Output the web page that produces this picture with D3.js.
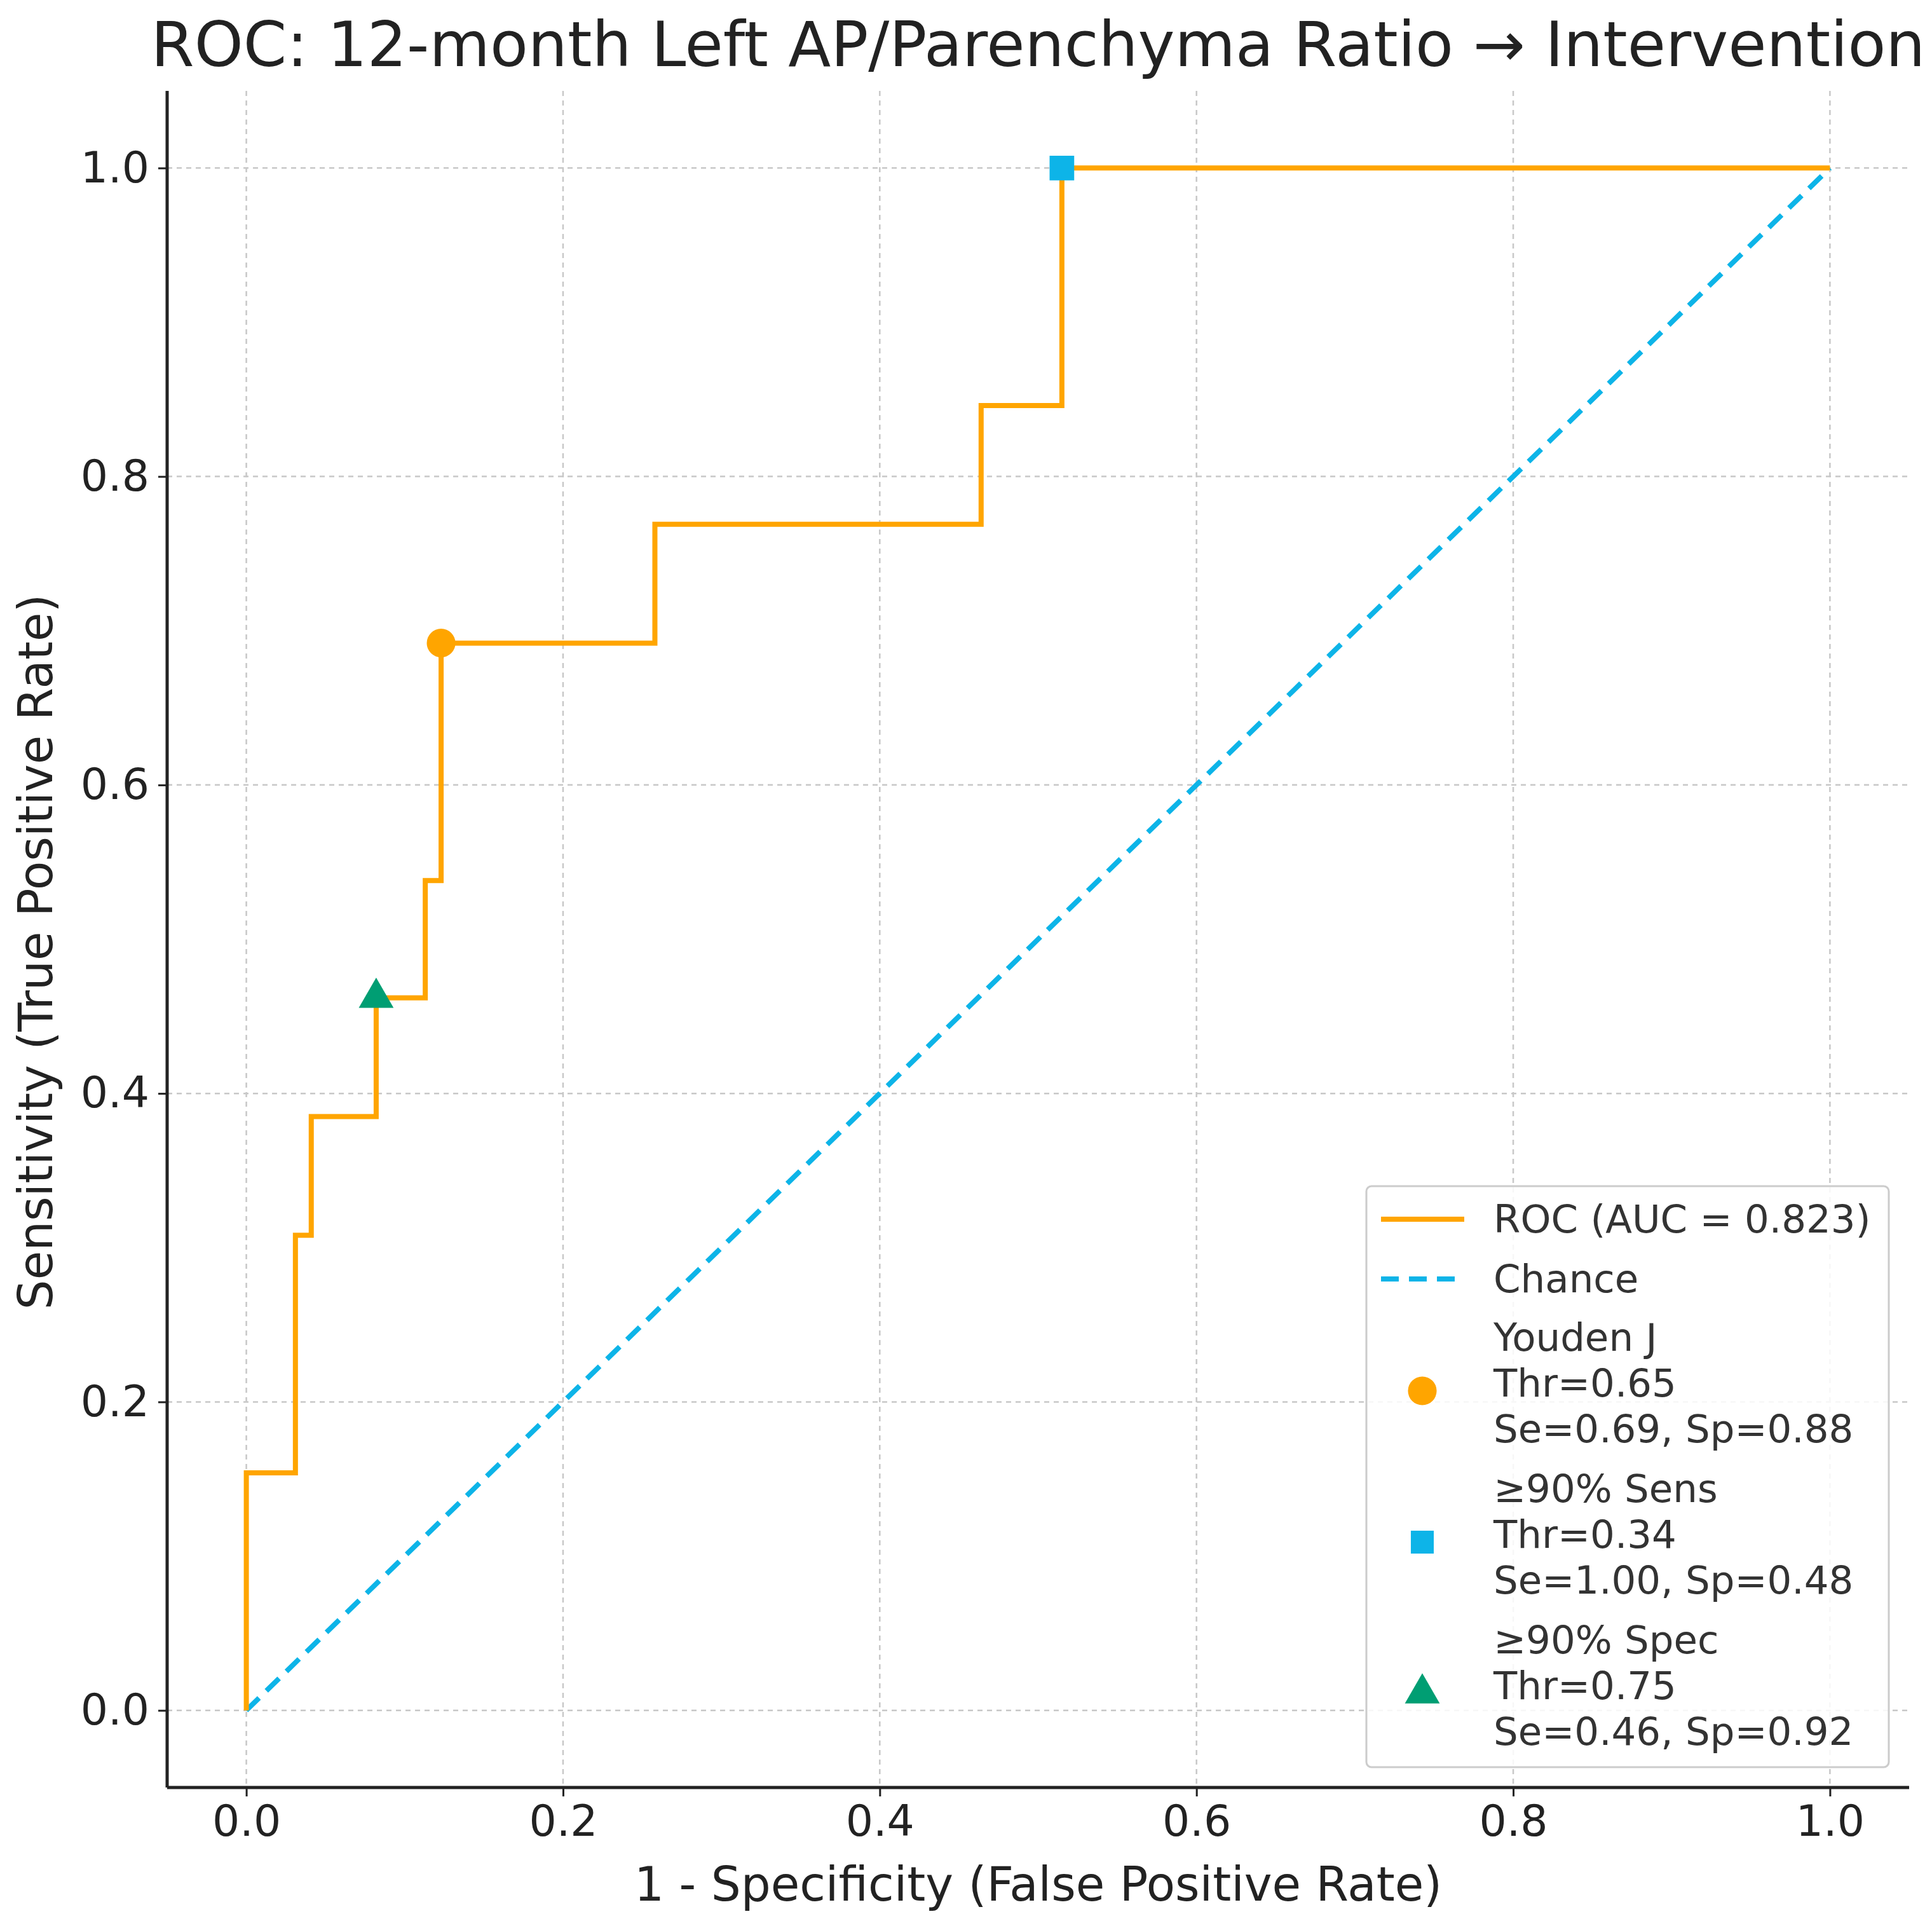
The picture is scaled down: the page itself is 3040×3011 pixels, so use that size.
<!DOCTYPE html>
<html><head><meta charset="utf-8">
<script src="https://cdn.jsdelivr.net/npm/d3@7"></script>
<style>body{margin:0;background:#fff}svg{display:block}</style>
</head><body>
<script>
const rocFPR = [0,0,0.031,0.031,0.041,0.041,0.082,0.082,0.113,0.113,0.123,0.123,0.258,0.258,0.464,0.464,0.515,0.515,1.0];
const rocTPR = [0,0.154,0.154,0.308,0.308,0.385,0.385,0.462,0.462,0.538,0.538,0.692,0.692,0.769,0.769,0.846,0.846,1.0,1.0];
const ticks = [0,0.2,0.4,0.6,0.8,1.0];
const youden = {fpr:0.123, tpr:0.692};
const sens90 = {fpr:0.515, tpr:1.0};
const spec90 = {fpr:0.082, tpr:0.462};
const legendLabels = [["ROC (AUC = 0.823)"],["Chance"],["Youden J","Thr=0.65","Se=0.69, Sp=0.88"],["≥90% Sens","Thr=0.34","Se=1.00, Sp=0.48"],["≥90% Spec","Thr=0.75","Se=0.46, Sp=0.92"]];

const W=3040,H=3011, L=263,R=3004,T=143,B=2812;
const orange="#FFA500", blue="#0DB4E8", green="#009E73";
const F="DejaVu Sans, sans-serif";
const svg=d3.select("body").append("svg").attr("width",W).attr("height",H);
const x=d3.scaleLinear().domain([-0.05,1.05]).range([L,R]);
const y=d3.scaleLinear().domain([-0.05,1.05]).range([B,T]);

const g=svg.append("g");
ticks.forEach(t=>{
  g.append("line").attr("x1",x(t)).attr("x2",x(t)).attr("y1",T).attr("y2",B).attr("stroke","#c8c8c8").attr("stroke-width",2.5).attr("stroke-dasharray","8,7");
  g.append("line").attr("y1",y(t)).attr("y2",y(t)).attr("x1",L).attr("x2",R).attr("stroke","#c8c8c8").attr("stroke-width",2.5).attr("stroke-dasharray","8,7");
});
g.append("line").attr("x1",x(0)).attr("y1",y(0)).attr("x2",x(1)).attr("y2",y(1)).attr("stroke",blue).attr("stroke-width",8).attr("stroke-dasharray","28,16");
const pts=rocFPR.map((f,i)=>[x(f),y(rocTPR[i])]);
g.append("path").attr("d",d3.line()(pts)).attr("fill","none").attr("stroke",orange).attr("stroke-width",8);
g.append("path").attr("d",d3.symbol(d3.symbolCircle,1600)()).attr("transform",`translate(${x(youden.fpr)},${y(youden.tpr)})`).attr("fill",orange);
g.append("path").attr("d",d3.symbol(d3.symbolSquare,1500)()).attr("transform",`translate(${x(sens90.fpr)},${y(sens90.tpr)})`).attr("fill",blue);
g.append("path").attr("d",d3.symbol(d3.symbolTriangle,1300)()).attr("transform",`translate(${x(spec90.fpr)},${y(spec90.tpr)})`).attr("fill",green);

const xa=svg.append("g").attr("transform",`translate(0,${B})`).call(d3.axisBottom(x).tickValues(ticks).tickFormat(d3.format(".1f")).tickSize(14).tickPadding(14));
const ya=svg.append("g").attr("transform",`translate(${L},0)`).call(d3.axisLeft(y).tickValues(ticks).tickFormat(d3.format(".1f")).tickSize(14).tickPadding(14));
[xa,ya].forEach(a=>{a.select(".domain").remove();a.selectAll("line").attr("stroke","#222").attr("stroke-width",3);a.selectAll("text").attr("font-family",F).attr("font-size",68).attr("fill","#222");});
svg.append("line").attr("x1",L).attr("x2",L).attr("y1",T).attr("y2",B).attr("stroke","#222").attr("stroke-width",5);
svg.append("line").attr("x1",L).attr("x2",R).attr("y1",B).attr("y2",B).attr("stroke","#222").attr("stroke-width",5);

svg.append("text").attr("x",(L+R)/2).attr("y",2990).attr("text-anchor","middle").attr("font-family",F).attr("font-size",74).attr("fill","#222").text("1 - Specificity (False Positive Rate)");
svg.append("text").attr("transform",`translate(82,${(T+B)/2+20}) rotate(-90)`).attr("text-anchor","middle").attr("font-family",F).attr("font-size",74).attr("fill","#222").text("Sensitivity (True Positive Rate)");
svg.append("text").attr("x",(L+R)/2).attr("y",104).attr("text-anchor","middle").attr("font-family",F).attr("font-size",98).attr("fill","#222").text("ROC: 12-month Left AP/Parenchyma Ratio → Intervention");

const lg=svg.append("g");
lg.append("rect").attr("x",2150).attr("y",1866).attr("width",822).attr("height",914).attr("rx",8).attr("fill","#fff").attr("fill-opacity",0.85).attr("stroke","#ccc").attr("stroke-width",3);
const tx=2350;
const rowsY=[1918,2012,[2104,2176,2248],[2342,2414,2486],[2580,2652,2724]];
lg.append("line").attr("x1",2173).attr("x2",2304).attr("y1",rowsY[0]).attr("y2",rowsY[0]).attr("stroke",orange).attr("stroke-width",8);
lg.append("line").attr("x1",2173).attr("x2",2304).attr("y1",rowsY[1]).attr("y2",rowsY[1]).attr("stroke",blue).attr("stroke-width",8).attr("stroke-dasharray","28,16");
const mk=[[d3.symbolCircle,orange,1600],[d3.symbolSquare,blue,1300],[d3.symbolTriangle,green,1300]];
legendLabels.forEach((lab,i)=>{
  const ys=Array.isArray(rowsY[i])?rowsY[i]:[rowsY[i]];
  lab.forEach((t,j)=>lg.append("text").attr("x",tx).attr("y",ys[j]).attr("dy","0.35em").attr("font-family",F).attr("font-size",61).attr("fill","#333").text(t));
  if(i>=2){const m=mk[i-2];lg.append("path").attr("d",d3.symbol(m[0],m[2])()).attr("transform",`translate(2238,${ys[1]+12})`).attr("fill",m[1]);}
});
</script>
</body></html>
